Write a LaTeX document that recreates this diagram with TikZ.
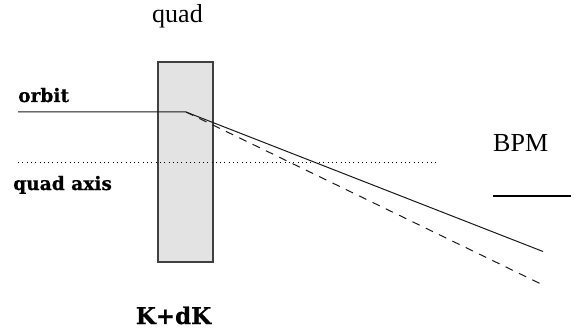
\documentclass[tikz,border=0pt]{standalone}
\usepackage{fontspec}
\setmainfont{Liberation Serif}
\newfontfamily\boldlab{DejaVu Serif}[BoldFont={DejaVu Serif Bold},BoldFeatures={FakeBold=0.6}]
\tikzset{
  plain/.style={inner sep=0pt,font=\fontsize{26}{30}\selectfont},
  boldtxt/.style={inner sep=0pt,font=\boldlab\bfseries\fontsize{18.6}{22}\selectfont},
  ray/.style={line width=1pt,black!90}
}
\begin{document}
\begin{tikzpicture}[x=1pt,y=-1pt]
\useasboundingbox (0,0) rectangle (579,329);
\node[draw=black!75,fill=black!11,line width=1.2pt,minimum width=55pt,minimum height=200pt,inner sep=0pt] (quadbox) at (185.5,162) {};
\coordinate (os) at (18,112);
\coordinate (ok) at (186,112);
\coordinate (oe) at (543,251.5);
\coordinate (de) at (541,284);
\coordinate (as) at (18,162);
\coordinate (ae) at (438,162);
\coordinate (bs) at (493,196);
\coordinate (be) at (571,196);
\draw[ray] (os) -- (ok) -- (oe);
\draw[ray,dash pattern=on 8pt off 6.8pt] (ok) -- (de);
\draw[line width=0.6pt,dash pattern=on 1pt off 3.3pt] (as) -- (ae);
\draw[line width=2pt,black] (bs) -- (be);
\node[plain,anchor=base] (qlab) at (177.5,22.5) {quad};
\node[plain,anchor=base west] (blab) at (493,151) {BPM};
\node[boldtxt,anchor=base west] (olab) at (18,102) {orbit};
\node[boldtxt,anchor=base west] (alab) at (13,190) {quad axis};
\node[boldtxt,font=\boldlab\bfseries\fontsize{23}{26}\selectfont,anchor=base] (klab) at (173.5,324) {K+dK};
\end{tikzpicture}
\end{document}
